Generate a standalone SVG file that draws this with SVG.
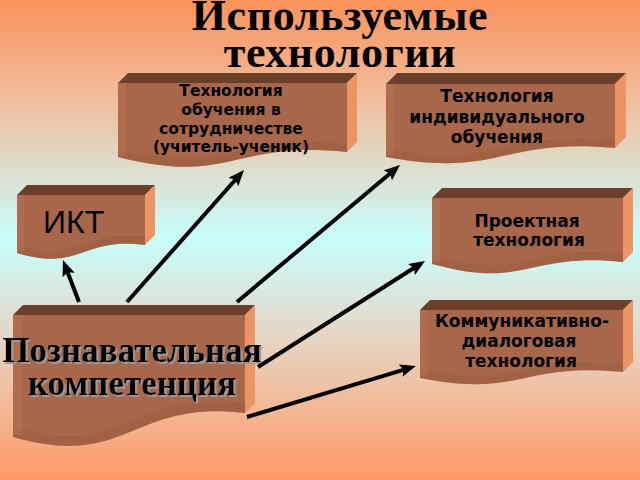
<svg xmlns="http://www.w3.org/2000/svg" width="640" height="480" viewBox="0 0 640 480">
<defs>
<linearGradient id="bg" x1="0" y1="0" x2="0" y2="1">
<stop offset="0" stop-color="#f8925c"/>
<stop offset="0.2" stop-color="#f2bc9a"/>
<stop offset="0.5" stop-color="#c8fefd"/>
<stop offset="0.7" stop-color="#e6d6c6"/>
<stop offset="1" stop-color="#ff9966"/>
</linearGradient>
<marker id="ah" viewBox="0 0 16 14" markerWidth="16" markerHeight="14" refX="8" refY="7" orient="auto" markerUnits="userSpaceOnUse">
<path d="M0,0.5 L16,7 L0,13.5 L3,7 z" fill="#000"/>
</marker>
<filter id="sh" x="-10%" y="-20%" width="120%" height="150%">
<feOffset in="SourceAlpha" dx="2" dy="2" result="o"/>
<feFlood flood-color="#9a9a9a"/>
<feComposite in2="o" operator="in" result="s"/>
<feMerge><feMergeNode in="s"/><feMergeNode in="SourceGraphic"/></feMerge>
</filter>
</defs>
<style>
.top{fill:#6b3f2b}
.front{fill:#a8674a}
.side{fill:#ec9464}
.band{fill:#9a5b3e;opacity:0.45}
.lstrip{fill:#b87555;opacity:0.45}
.t{font-family:"DejaVu Sans",Verdana,sans-serif;font-weight:bold;fill:#000;text-anchor:middle}
.title{font-family:"Liberation Serif","Times New Roman",serif;font-weight:bold;font-size:44px;letter-spacing:0.6px;fill:#000;text-anchor:middle}
.big{font-family:"Liberation Serif","Times New Roman",serif;font-weight:bold;font-size:35px;fill:#000;text-anchor:middle}
.conn{stroke:#000;stroke-width:4;fill:none;marker-end:url(#ah)}
</style>
<rect x="0" y="0" width="640" height="480" fill="url(#bg)"/>

<g id="title">
<text class="title" x="340" y="30">Используемые</text>
<text class="title" x="340" y="67">технологии</text>
</g>

<g id="box-coop">
<polygon class="top" points="118,83 128,73 357,73 347,83"/>
<polygon class="side" points="347,83 357,73 357,142 347,152"/>
<path class="front" d="M118,83 H347 V152 C232,140 232,186 118,157 Z"/>
<path class="band" d="M118,149 C232,178 232,132 347,144 V152 C232,140 232,186 118,157 Z"/>
<rect class="lstrip" x="118" y="83" width="8" height="72"/>
<text class="t" font-size="15.5" x="231" y="96">Технология</text>
<text class="t" font-size="15.5" x="231" y="115">обучения в</text>
<text class="t" font-size="15.5" x="231" y="134">сотрудничестве</text>
<text class="t" font-size="15.5" x="231" y="152">(учитель-ученик)</text>
</g>

<g id="box-indiv">
<polygon class="top" points="386,84 397,73 626,73 615,84"/>
<polygon class="side" points="615,84 626,73 626,137 615,148"/>
<path class="front" d="M386,84 H615 V148 C500,138 500,178 386,157 Z"/>
<path class="band" d="M386,149 C500,170 500,130 615,140 V148 C500,138 500,178 386,157 Z"/>
<rect class="lstrip" x="386" y="84" width="8" height="71"/>
<text class="t" font-size="17" x="497" y="102">Технология</text>
<text class="t" font-size="17" x="497" y="123">индивидуального</text>
<text class="t" font-size="17" x="497" y="143">обучения</text>
</g>

<g id="box-ikt">
<polygon class="top" points="17,195 27,185 155,185 145,195"/>
<polygon class="side" points="145,195 155,185 155,235 145,245"/>
<path class="front" d="M17,195 H145 V245 C81,237 81,272 17,253 Z"/>
<path class="band" d="M17,245 C81,264 81,229 145,237 V245 C81,237 81,272 17,253 Z"/>
<rect class="lstrip" x="17" y="195" width="7" height="56"/>
<text x="43" y="233" font-family="'Liberation Sans',Arial,sans-serif" font-size="32" fill="#000">ИКТ</text>
</g>

<g id="box-proj">
<polygon class="top" points="432,198 442,188 633,188 623,198"/>
<polygon class="side" points="623,198 633,188 633,252 623,262"/>
<path class="front" d="M432,198 H623 V262 C527,252 527,290 432,264 Z"/>
<path class="band" d="M432,256 C527,282 527,244 623,254 V262 C527,252 527,290 432,264 Z"/>
<rect class="lstrip" x="432" y="198" width="8" height="64"/>
<text class="t" font-size="17" x="527" y="227">Проектная</text>
<text class="t" font-size="17" x="529" y="246">технология</text>
</g>

<g id="box-komm">
<polygon class="top" points="420,310 430,300 633,300 623,310"/>
<polygon class="side" points="623,310 633,300 633,362 623,372"/>
<path class="front" d="M420,310 H623 V372 C521,362 521,398 420,378 Z"/>
<path class="band" d="M420,370 C521,390 521,354 623,364 V372 C521,362 521,398 420,378 Z"/>
<rect class="lstrip" x="420" y="310" width="8" height="66"/>
<text class="t" font-size="17" x="522" y="327">Коммуникативно-</text>
<text class="t" font-size="17" x="519" y="347">диалоговая</text>
<text class="t" font-size="17" x="521" y="367">технология</text>
</g>

<g id="box-pozn">
<polygon class="top" points="13,315 23,305 255,305 245,315"/>
<polygon class="side" points="245,315 255,305 255,403 245,413"/>
<path class="front" d="M13,315 H245 V413 C129,400 129,470 13,437 Z"/>
<path class="band" d="M13,427 C129,460 129,390 245,403 V413 C129,400 129,470 13,437 Z"/>
<rect class="lstrip" x="13" y="315" width="10" height="120"/>
<g filter="url(#sh)">
<text class="big" x="132" y="362">Познавательная</text>
<text class="big" x="132" y="395">компетенция</text>
</g>
</g>

<g id="connectors">
<line class="conn" x1="127" y1="302" x2="238.7" y2="176"/>
<line class="conn" x1="237" y1="302" x2="393.9" y2="170.2"/>
<line class="conn" x1="79" y1="302" x2="65.8" y2="267.5"/>
<line class="conn" x1="258" y1="367" x2="418.2" y2="265.3"/>
<line class="conn" x1="247" y1="417" x2="408.3" y2="368.3"/>
</g>
</svg>
